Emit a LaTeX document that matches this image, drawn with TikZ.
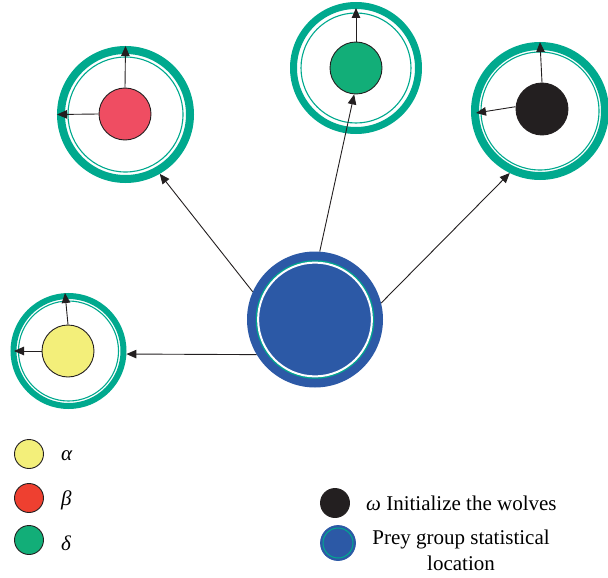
\documentclass[tikz,border=0pt]{standalone}
\usepackage{fontspec}
\setmainfont{Liberation Serif}
\usetikzlibrary{arrows.meta}
\definecolor{ringteal}{RGB}{0,169,142}
\definecolor{preyblue}{RGB}{44,89,166}
\definecolor{wyellow}{RGB}{243,239,122}
\definecolor{wred}{RGB}{239,77,98}
\definecolor{lred}{RGB}{238,64,48}
\definecolor{wgreen}{RGB}{18,174,120}
\definecolor{wblack}{RGB}{35,31,32}
\tikzset{
  thickring/.style={circle, draw=ringteal, line width=8pt, inner sep=0pt},
  thinring/.style={circle, draw=ringteal, line width=1.1pt, inner sep=0pt},
  wolf/.style={circle, draw=wblack, line width=0.9pt, inner sep=0pt, minimum size=52pt},
  legdot/.style={circle, draw=wblack, line width=0.9pt, inner sep=0pt, minimum size=29pt},
  link/.style={draw=wblack, line width=0.9pt, -{Triangle[length=10pt,width=8.5pt]}},
  lbl/.style={font=\fontsize{21}{26}\selectfont, inner sep=0pt},
}
\begin{document}
\begin{tikzpicture}[x=1pt,y=-1pt]
\useasboundingbox (0,0) rectangle (608,578);

% prey group position
\node[circle, fill=preyblue, minimum size=136pt, inner sep=0pt] (prey) at (315,319.5) {};
\draw[ringteal, line width=1.3pt] (prey.center) circle[radius=58.6pt];
\draw[white, line width=2pt] (prey.center) circle[radius=56.9pt];

% alpha wolf (bottom left)
\node[thickring, line width=6pt, minimum size=110pt] (ringY) at (68.5,351) {};
\node[thinring, minimum size=100pt] at (68.5,351) {};
\node[wolf, fill=wyellow] (wY) at (68,351) {};

% beta wolf (upper left)
\node[thickring, minimum size=129pt] (ringR) at (125.5,114.5) {};
\node[thinring, minimum size=115pt] at (125.5,114.5) {};
\node[wolf, fill=wred] (wR) at (125,114) {};

% delta wolf (top)
\node[thickring, line width=7pt, minimum size=125pt] (ringG) at (356,68) {};
\node[thinring, minimum size=110pt] at (356,68) {};
\node[wolf, fill=wgreen] (wG) at (356,68) {};

% omega wolf (upper right)
\node[thickring, minimum size=130pt] (ringB) at (540,111) {};
\node[thinring, minimum size=118pt] at (540,111) {};
\node[wolf, fill=wblack] (wB) at (542,109) {};

% arrow tips inside the rings
\coordinate (tYup) at (65,293);
\coordinate (tYleft) at (14,351);
\coordinate (tGup) at (356,8);
\coordinate (tBleft) at (476,113);

% movement arrows of each wolf
\draw[link] (wY.north) -- (tYup);
\draw[link] (wY.west) -- (tYleft);
\draw[link] (wR.north) -- (ringR.north);
\draw[link] (wR.west) -- (ringR.west);
\draw[link] (wG.north) -- (tGup);
\draw[link] (wB.north) -- (ringB.north);
\draw[link] (wB.175) -- (tBleft);

% arrows from the prey to the wolves
\draw[link] (prey.211) -- (ringY.357);
\draw[link] (prey.156) -- (ringR.300);
\draw[link] (prey.86) -- (wG.266);
\draw[link] (prey.14) -- (ringB.244);

% legend
\node[legdot, fill=wyellow] (kA) at (29,454) {};
\node[legdot, fill=lred] (kB) at (29,498) {};
\node[legdot, fill=wgreen] (kD) at (29,540) {};
\node[lbl, anchor=west] (tA) at (61,456) {\itshape α};
\node[lbl, anchor=west] (tB) at (61,500) {\itshape β};
\node[lbl, anchor=west] (tD) at (61,543) {\itshape δ};

\node[legdot, fill=wblack] (kW) at (335,503) {};
\node[circle, fill=preyblue, draw=preyblue, line width=0.8pt, minimum size=35pt, inner sep=0pt] (kP) at (338,543) {};
\draw[ringteal, line width=1pt] (kP.center) circle[radius=15pt];
\node[lbl, anchor=west] (tW) at (366,503) {{\itshape ω} Initialize the wolves};
\node[lbl, align=center] (tP) at (461,550) {Prey group statistical\\location};
\end{tikzpicture}
\end{document}
